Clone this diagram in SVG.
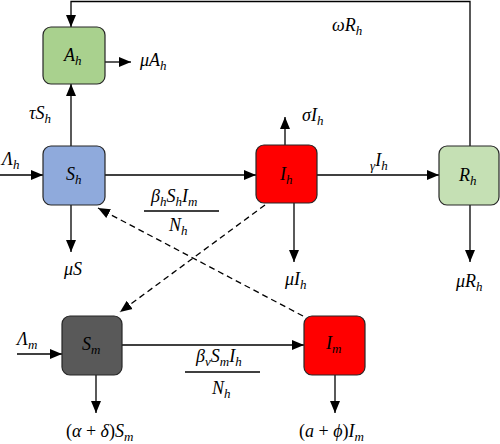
<svg xmlns="http://www.w3.org/2000/svg" width="500" height="444" viewBox="0 0 500 444">
<style>
.box{stroke:#262626;stroke-width:1.2}
.ln{fill:none;stroke:#000;stroke-width:1.3}
.ds{fill:none;stroke:#000;stroke-width:1.3;stroke-dasharray:6 4}
text{font-family:"Liberation Serif","DejaVu Serif",serif;font-style:italic;font-size:18px;fill:#000}
.s{font-size:13px}
.n{font-style:normal}
</style>
<defs>
<marker id="ah" markerUnits="userSpaceOnUse" markerWidth="12" markerHeight="12" viewBox="0 0 12 12" refX="12" refY="6" orient="auto">
<path d="M0,1 L12,6 L0,11 Z" fill="#000"/>
</marker>
</defs>
<rect width="500" height="444" fill="#fff"/>
<g id="connectors">
<path class="ln" d="M470,146 V1.5 H71 V27" marker-end="url(#ah)"/>
<path class="ln" d="M105,62 H131" marker-end="url(#ah)"/>
<path class="ln" d="M71,146 V84" marker-end="url(#ah)"/>
<path class="ln" d="M0,175 H43" marker-end="url(#ah)"/>
<path class="ln" d="M105,175 H256" marker-end="url(#ah)"/>
<path class="ln" d="M71,205 V252" marker-end="url(#ah)"/>
<path class="ln" d="M285,145 V117" marker-end="url(#ah)"/>
<path class="ln" d="M317,175 H439" marker-end="url(#ah)"/>
<path class="ln" d="M294,203 V262" marker-end="url(#ah)"/>
<path class="ln" d="M470,205 V262" marker-end="url(#ah)"/>
<path class="ds" d="M265,205 L120,312" marker-end="url(#ah)"/>
<path class="ds" d="M303,316 L98,208" marker-end="url(#ah)"/>
<path class="ln" d="M17,354 H62" marker-end="url(#ah)"/>
<path class="ln" d="M122,345 H304" marker-end="url(#ah)"/>
<path class="ln" d="M96,375 V413" marker-end="url(#ah)"/>
<path class="ln" d="M335,375 V413" marker-end="url(#ah)"/>
<line class="ln" x1="144" y1="211" x2="219" y2="211"/>
<line class="ln" x1="185" y1="372" x2="260" y2="372"/>
</g>
<g id="Ah">
<rect class="box" x="43" y="27" width="62" height="57" rx="8" fill="#a9d18e"/>
<text x="64" y="61">A<tspan class="s" dy="4">h</tspan></text>
</g>
<g id="Sh">
<rect class="box" x="43" y="146" width="62" height="59" rx="8" fill="#8faadc"/>
<text x="66" y="180">S<tspan class="s" dy="4">h</tspan></text>
</g>
<g id="Ih">
<rect class="box" x="256" y="145" width="61" height="58" rx="8" fill="#ff0000"/>
<text x="280" y="180">I<tspan class="s" dy="4">h</tspan></text>
</g>
<g id="Rh">
<rect class="box" x="439" y="146" width="60" height="59" rx="8" fill="#c5e0b4"/>
<text x="459" y="181">R<tspan class="s" dy="4">h</tspan></text>
</g>
<g id="Sm">
<rect class="box" x="62" y="316" width="60" height="59" rx="8" fill="#595959"/>
<text x="82" y="350">S<tspan class="s" dy="4">m</tspan></text>
</g>
<g id="Im">
<rect class="box" x="304" y="316" width="61" height="59" rx="8" fill="#ff0000"/>
<text x="326" y="349">I<tspan class="s" dy="4">m</tspan></text>
</g>
<g id="labels">
<text x="140" y="66">μA<tspan class="s" dy="4">h</tspan></text>
<text x="29" y="119">τS<tspan class="s" dy="4">h</tspan></text>
<text x="2" y="165">Λ<tspan class="s" dy="4">h</tspan></text>
<text x="151" y="202">β<tspan class="s" dy="4">h</tspan><tspan dy="-4">S</tspan><tspan class="s" dy="4">h</tspan><tspan dy="-4">I</tspan><tspan class="s" dy="4">m</tspan></text>
<text x="169" y="231">N<tspan class="s" dy="4">h</tspan></text>
<text x="64" y="275">μS</text>
<text x="302" y="121">σI<tspan class="s" dy="4">h</tspan></text>
<text x="370" y="166"><tspan class="s" dy="4">γ</tspan><tspan dy="-4">I</tspan><tspan class="s" dy="4">h</tspan></text>
<text x="285" y="285">μI<tspan class="s" dy="4">h</tspan></text>
<text x="456" y="287">μR<tspan class="s" dy="4">h</tspan></text>
<text x="332" y="31">ωR<tspan class="s" dy="4">h</tspan></text>
<text x="17" y="345">Λ<tspan class="s" dy="4">m</tspan></text>
<text x="196" y="362">β<tspan class="s" dy="4">v</tspan><tspan dy="-4">S</tspan><tspan class="s" dy="4">m</tspan><tspan dy="-4">I</tspan><tspan class="s" dy="4">h</tspan></text>
<text x="212" y="394">N<tspan class="s" dy="4">h</tspan></text>
<text x="66" y="437"><tspan class="n">(</tspan>α <tspan class="n">+</tspan> δ<tspan class="n">)</tspan>S<tspan class="s" dy="4">m</tspan></text>
<text x="299" y="437"><tspan class="n">(</tspan>a <tspan class="n">+</tspan> ϕ<tspan class="n">)</tspan>I<tspan class="s" dy="4">m</tspan></text>
</g>
</svg>
